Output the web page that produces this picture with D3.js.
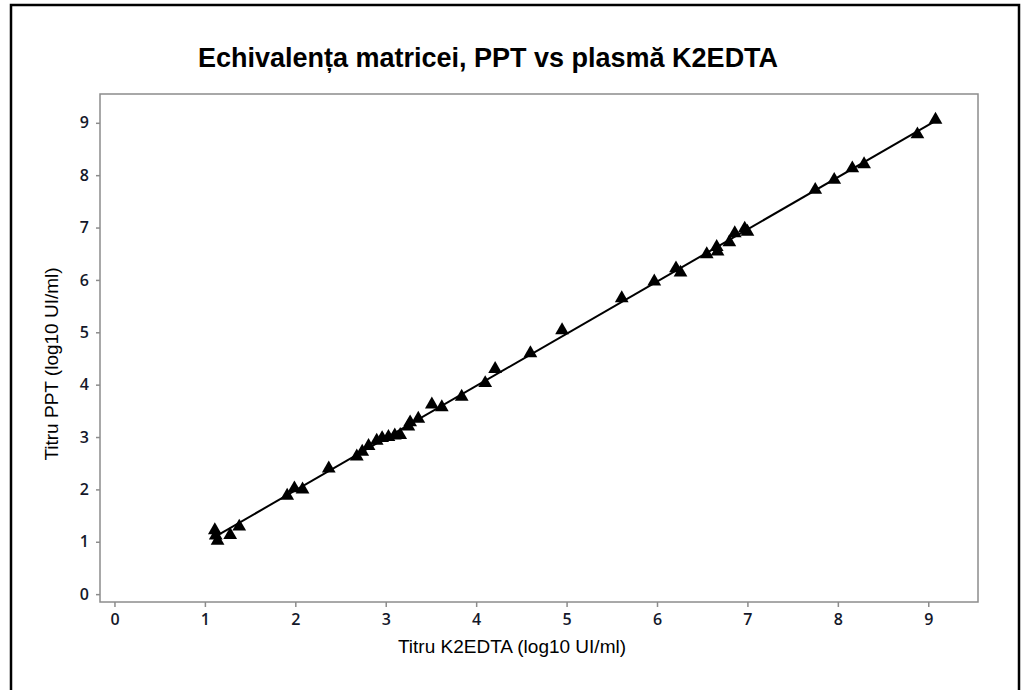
<!DOCTYPE html>
<html lang="ro">
<head>
  <meta charset="UTF-8">
  <title>Echivalența matricei</title>
  <script src="https://d3js.org/d3.v7.min.js"></script>
  <style>
    body { margin: 0; background: #fff; }
    .tick text { font-family: "Open Sans", "DejaVu Sans", sans-serif; font-size: 16px; font-weight: 600; fill: #14182a; }
    .axis path, .axis line { stroke: #8c8c8c; stroke-width: 1.5px; }
  </style>
</head>
<body>
  <svg id="viz" width="1026" height="690"></svg>

  <script>
    // K2EDTA titre (x) vs PPT titre (y), log10 UI/ml
    const k2edta = [1.11, 1.12, 1.14, 1.28, 1.38, 1.91, 1.99, 2.08, 2.37,
                    2.68, 2.74, 2.81, 2.90, 2.96, 3.03, 3.10, 3.16, 3.25, 3.27, 3.36,
                    3.51, 3.62, 3.84, 4.10, 4.21, 4.60, 4.95,
                    5.61, 5.97, 6.21, 6.26, 6.55, 6.66, 6.67, 6.80, 6.86, 6.97, 7.00,
                    7.75, 7.96, 8.16, 8.29, 8.88, 9.08];
    const ppt    = [1.22, 1.12, 1.02, 1.13, 1.29, 1.88, 2.02, 2.00, 2.40,
                    2.63, 2.72, 2.83, 2.93, 2.98, 3.00, 3.03, 3.04, 3.20, 3.28, 3.35,
                    3.62, 3.57, 3.77, 4.03, 4.30, 4.60, 5.04,
                    5.65, 5.97, 6.22, 6.14, 6.49, 6.63, 6.54, 6.72, 6.89, 6.98, 6.92,
                    7.72, 7.91, 8.13, 8.21, 8.78, 9.06];
    const ticks = [0, 1, 2, 3, 4, 5, 6, 7, 8, 9];

    const svg = d3.select("#viz");

    // outer frame
    svg.append("rect")
      .attr("x", 11).attr("y", 5)
      .attr("width", 1008).attr("height", 720)
      .attr("fill", "none").attr("stroke", "#000").attr("stroke-width", 2.5);

    const plot = { left: 100, right: 978, top: 94, bottom: 602 };

    const x = d3.scaleLinear().domain([-0.16, 9.55]).range([plot.left, plot.right]);
    const y = d3.scaleLinear().domain([-0.15, 9.55]).range([plot.bottom, plot.top]);

    // plot box
    svg.append("rect")
      .attr("x", plot.left).attr("y", plot.top)
      .attr("width", plot.right - plot.left).attr("height", plot.bottom - plot.top)
      .attr("fill", "none").attr("stroke", "#8c8c8c").attr("stroke-width", 1.5);

    const xAxis = svg.append("g")
      .attr("class", "axis")
      .attr("transform", `translate(0,${plot.bottom})`)
      .call(d3.axisBottom(x).tickValues(ticks).tickSize(5).tickPadding(7).tickFormat(d3.format("d")));
    xAxis.select(".domain").remove();

    const yAxis = svg.append("g")
      .attr("class", "axis")
      .attr("transform", `translate(${plot.left},0)`)
      .call(d3.axisLeft(y).tickValues(ticks).tickSize(4).tickPadding(7).tickFormat(d3.format("d")));
    yAxis.select(".domain").remove();

    // fitted line (least squares on the points)
    const mx = d3.mean(k2edta), my = d3.mean(ppt);
    const slope = d3.sum(k2edta, (v, i) => (v - mx) * (ppt[i] - my)) / d3.sum(k2edta, v => (v - mx) ** 2);
    const intercept = my - slope * mx;
    const xr = d3.extent(k2edta);
    svg.append("path")
      .datum(xr)
      .attr("fill", "none")
      .attr("stroke", "#000")
      .attr("stroke-width", 2)
      .attr("d", d3.line().x(d => x(d)).y(d => y(intercept + slope * d)));

    // points
    const tri = d3.symbol().type(d3.symbolTriangle).size(82);
    svg.selectAll(".pt")
      .data(k2edta.map((v, i) => [v, ppt[i]]))
      .enter()
      .append("path")
      .attr("class", "pt")
      .attr("transform", d => `translate(${x(d[0])},${y(d[1])})`)
      .attr("d", tri)
      .attr("fill", "#000");

    // titles
    svg.append("text")
      .attr("x", 488).attr("y", 67)
      .attr("text-anchor", "middle")
      .style("font-family", "'Liberation Sans', Arial, sans-serif")
      .style("font-size", "27px")
      .style("font-weight", "bold")
      .text("Echivalența matricei, PPT vs plasmă K2EDTA");

    svg.append("text")
      .attr("x", 512).attr("y", 653)
      .attr("text-anchor", "middle")
      .style("font-family", "'Liberation Sans', Arial, sans-serif")
      .style("font-size", "19px")
      .text("Titru K2EDTA (log10 UI/ml)");

    svg.append("text")
      .attr("transform", "translate(58,364) rotate(-90)")
      .attr("text-anchor", "middle")
      .style("font-family", "'Liberation Sans', Arial, sans-serif")
      .style("font-size", "19px")
      .text("Titru PPT (log10 UI/ml)");
  </script>
</body>
</html>
